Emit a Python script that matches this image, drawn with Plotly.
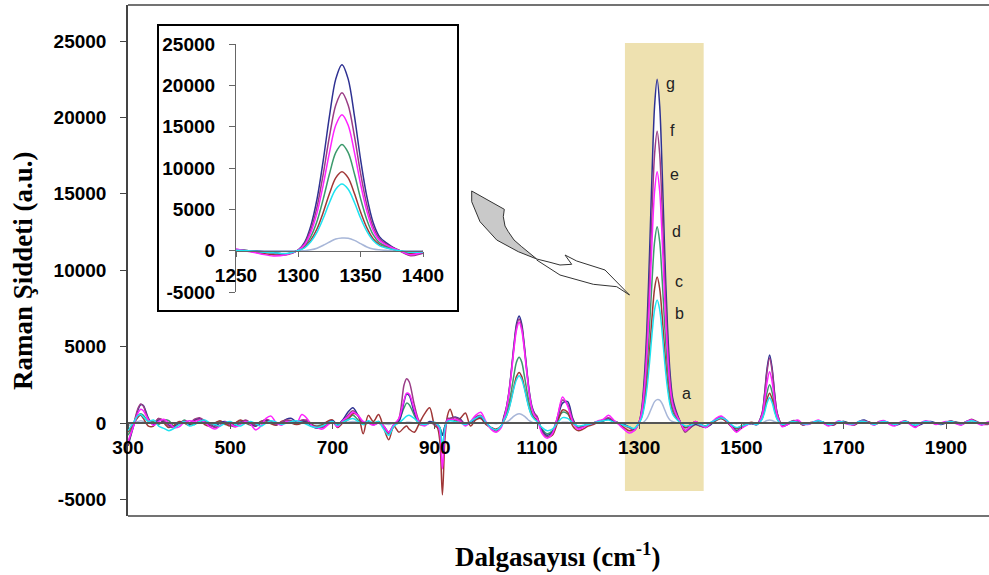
import plotly.graph_objects as go

# ---------------- data (wavenumber grid, cm-1) ----------------
X = [300, 310, 320, 325, 330, 340,
     350, 360, 370, 380, 390, 400, 410, 420, 430, 440, 450, 460, 470, 480, 490, 500,
     510, 520, 530, 540, 550, 560, 570, 580, 590, 600, 610, 620, 630, 640, 650, 660,
     670, 680, 690, 700,
     710, 720, 730, 740, 750, 760, 770, 780, 790, 800, 810, 820, 830,
     840, 845, 850, 860, 870, 880, 890, 900, 905, 910, 915, 920, 925, 930, 940, 950,
     960, 970, 980, 990, 1000, 1010, 1020, 1030,
     1035, 1040, 1045, 1050, 1055, 1060, 1065, 1070, 1075, 1080, 1085, 1090, 1095, 1100,
     1110, 1120, 1130, 1140, 1150, 1160, 1170, 1180, 1190, 1200, 1210, 1220, 1230, 1240,
     1250, 1260, 1270, 1280, 1290,
     1300, 1305, 1310, 1315, 1320, 1325, 1330, 1335, 1340, 1345, 1350, 1355, 1360, 1365,
     1370, 1375, 1380,
     1390, 1400, 1410, 1420, 1430, 1440, 1450, 1460, 1470, 1480, 1490, 1500, 1510, 1520,
     1530, 1540,
     1545, 1550, 1555, 1560, 1565, 1570,
     1580, 1590, 1600, 1610, 1620, 1630, 1640, 1650, 1660, 1670, 1680, 1690, 1700, 1710,
     1720, 1730, 1740, 1750, 1760, 1770, 1780, 1790, 1800, 1810, 1820, 1830, 1840, 1850,
     1860, 1870, 1880, 1890, 1900, 1910, 1920, 1930, 1940, 1950, 1960, 1970, 1980, 1990]

SER_G = [-1500, -300, 900, 1200, 1150, 300,
         -100, 200, 100, -150, -250, 0, 100, -100, 200, 300, 100, -150, -200, 0, 100, -100, -200, 50, 150, -50, -200, 0, 200, 100, -100, 0, 250, 300, 50, 150, 100, -200, -350, -250, 0, 150,
         -100, 200, 700, 1000, 500, 0, 100, -100, 0, -200, -600, -100, 100,
         1400, 1900, 1800, 700, 0, -100, 100, 0, -100, -300, -800, -200, 200, 300, 400, 250, -100, 0, 300, 400, 0, -300, -500, -200,
         400, 1000, 2000, 3500, 5150, 6500, 7000, 6500, 5150, 3500, 2050, 1100, 650, 400,
         -500, -800, -600, 300, 1300, 1400, 300, -300, -200, -100, 0, 100, 150, 300, 100, 0, -100, -250, -400,
         100, 1000, 3000, 6250, 10950, 16300, 20750, 22500, 20750, 16300, 10950, 6500, 3400, 1700, 1000, 500, 100,
         -500, -300, -100, -200, -300, -100, 200, 400, 200, -200, -500, -300, -100, -50, -100, 600,
         1870, 3560, 4450, 3560, 1870, 620,
         -200, -100, 100, 150, -100, -50, 0, 150, 50, -150, -100, 50, 100, -50, -100, 100, 200, 0, -100, 50, 100, 0, -150, -50, 100, 0, -200, -100, 50, 100, 0, -100, 0, 100, 50, -50, 100, 200, 50, -100, 0, 100]

SER_F = [-1400, -200, 1000, 1250, 1100, 250,
         0, 300, 150, -200, -300, -100, 150, 0, 250, 350, 150, -100, -300, -150, 50, -150, -250, 0, 200, 0, -150, 50, 250, 100, -100, 50, 200, 150, 0, 200, 150, -150, -300, -300, -100, 100,
         -200, 100, 500, 800, 450, 0, 50, -100, 50, -300, -700, -200, 300,
         2500, 2900, 2700, 1200, 100, -100, 0, -100, -200, -500, -2000, -400, 300, 300, 350, 200, -100, 50, 400, 500, 0, -300, -500, -200,
         300, 950, 1950, 3400, 5000, 6300, 6800, 6300, 5000, 3400, 1950, 1000, 600, 450,
         -600, -900, -700, 400, 1500, 1200, 200, -300, -200, -100, -50, 100, 200, 350, 150, 0, -150, -300, -500,
         80, 850, 2550, 5300, 9300, 13850, 17600, 19100, 17600, 13850, 9300, 5500, 2900, 1450, 850, 420, 80,
         -600, -300, 0, -200, -250, -50, 250, 400, 150, -250, -550, -300, -100, 0, -100, 550,
         1780, 3400, 4250, 3400, 1780, 600,
         -150, -50, 150, 100, -150, 0, 50, 100, 0, -100, -150, 100, 50, 0, -150, 50, 150, 50, -50, 100, 50, -50, -100, 0, 150, -50, -250, -50, 100, 50, -50, -50, 50, 150, 0, -100, 50, 250, 100, -50, -100, 50]

SER_E = [-1200, -300, 700, 900, 800, 200,
         -150, 100, 250, 0, -300, -250, 50, 150, 100, 200, 50, -250, -400, -200, 50, -50, -250, -100, 100, -100, -450, -200, 300, 450, 0, -150, 100, 50, 0, 550, 300, -200, -300, -400, -150, 50,
         -250, 150, 400, 700, 500, 100, 0, -150, 0, -200, -600, -100, 300,
         1500, 1950, 1900, 900, 0, -200, 0, 0, -100, -600, -3000, -500, 200, 200, 250, 100, -200, 100, 500, 700, 100, -400, -600, -300,
         200, 900, 1900, 3300, 4850, 6100, 6600, 6100, 4850, 3300, 1900, 950, 500, 300,
         -700, -1000, -700, 400, 1700, 1100, 100, -400, -300, -100, 0, 150, 250, 500, 200, -100, -400, -650, -500,
         70, 720, 2200, 4570, 8000, 11900, 15170, 16450, 15170, 11900, 8000, 4750, 2480, 1250, 720, 360, 70,
         -500, -200, 100, -100, -300, 0, 300, 450, 200, -200, -600, -350, -150, 0, -100, 450,
         1400, 2680, 3350, 2680, 1400, 470,
         -250, -100, 50, 200, -50, -100, 50, 200, 0, -200, -50, 150, 0, -100, -100, 100, 100, 0, -150, 100, 150, -100, -200, 50, 100, -100, -300, 0, 150, 50, -100, 0, 100, 50, -50, -150, 100, 200, 0, -150, 50, 150]

SER_D = [-800, -200, 500, 600, 500, 100,
         100, -100, 200, 150, -200, -100, 200, 0, -100, 150, 0, -150, 0, 100, -100, -50, 0, 150, 0, -150, -100, 100, 150, 0, -100, 0, 150, 50, -50, 100, 0, -150, -200, -100, 50, 100,
         -100, 100, 300, 500, 200, -100, 0, -50, 100, -200, -700, -200, 200,
         1000, 1300, 1200, 500, -100, -100, 0, 0, -100, -300, -800, -200, 100, 200, 200, 100, -100, 0, 300, 300, 0, -300, -500, -200,
         200, 600, 1250, 2150, 3150, 4000, 4300, 4000, 3150, 2150, 1250, 650, 350, 200,
         -400, -700, -500, 200, 700, 600, 0, -300, -200, -100, 0, 100, 150, 250, 100, 0, -150, -250, -400,
         50, 570, 1700, 3570, 6260, 9300, 11850, 12850, 11850, 9300, 6260, 3710, 1940, 980, 570, 280, 50,
         -300, -200, 0, -100, -200, 0, 200, 300, 150, -150, -400, -200, -100, 0, -50, 350,
         1050, 2000, 2500, 2000, 1050, 350,
         -100, 0, 100, 100, -50, -50, 0, 100, 50, -100, -50, 50, 100, 0, -50, 50, 150, 50, -50, 0, 50, 0, -100, 0, 50, 0, -150, -50, 50, 50, 0, -50, 0, 50, 50, 0, 50, 150, 50, -50, 0, 50]

SER_C = [-600, -100, 400, 500, 300, -200,
         -200, 300, 0, -300, -150, 100, 0, -150, 150, 200, -100, -200, 0, 150, -50, -200, 0, 200, 50, -100, -200, 100, 150, -50, -150, 100, 200, 0, -100, 0, 200, -100, -250, -150, 100, 200,
         -300, 0, 200, 600, 500, -700, 500, 100, 550, -300, -1100, -200, -600,
         -300, -200, -400, -600, 0, 600, 1000, -200, -300, -1200, -4700, -1000, 500, 900, 100, 300, 650, -200, 200, 300, -100, -300, -400, -200,
         100, 450, 950, 1650, 2400, 3050, 3300, 3050, 2400, 1650, 950, 500, 300, 200,
         -500, -900, -800, 0, 850, 700, -200, -500, -400, -200, -100, 50, 150, 300, 100, -50, -300, -500, -450,
         40, 420, 1270, 2650, 4650, 6910, 8800, 9550, 8800, 6910, 4650, 2760, 1440, 730, 420, 210, 40,
         -300, -100, 100, -100, -200, 0, 150, 300, 100, -200, -350, -200, -50, 50, -50, 270,
         820, 1560, 1950, 1560, 820, 270,
         -150, -50, 50, 50, -100, 0, 50, 100, 0, -100, -100, 50, 50, -50, -100, 50, 100, 50, -100, 50, 100, -50, -100, 0, 100, 0, -200, -50, 50, 50, -50, -50, 50, 100, 0, -100, 50, 200, 50, -50, -50, 50]

SER_B = [-500, 0, 500, 550, 400, 100,
         200, -200, -350, -500, -350, -100, 100, -200, -100, 100, 200, 0, -100, -200, 0, 100, -100, -200, 0, 100, -50, -200, 0, 150, 50, -100, 0, 100, 150, 50, -100, -250, -300, -200, 0, 100,
         -150, 50, 200, 300, 100, -100, 150, 0, 100, -400, -800, -200, 0,
         300, 450, 500, 300, 0, -100, 0, 50, -100, -300, -1500, -300, 100, 150, 100, 0, -100, 100, 300, 450, 50, -300, -450, -200,
         150, 450, 900, 1550, 2300, 2850, 3100, 2850, 2300, 1550, 900, 450, 250, 100,
         -300, -500, -400, 0, 350, 300, 0, -200, -150, -100, 0, 100, 150, 200, 50, 0, -150, -250, -350,
         30, 350, 1070, 2240, 3920, 5830, 7420, 8050, 7420, 5830, 3920, 2330, 1220, 610, 350, 180, 30,
         -200, -150, 0, -100, -200, 50, 200, 350, 200, -100, -300, -200, -100, 0, -100, 230,
         690, 1320, 1650, 1320, 690, 230,
         -100, 0, 100, 50, -50, -50, 50, 150, 50, -100, -50, 100, 50, -50, -50, 100, 100, 0, -100, 50, 100, 0, -100, 0, 100, 0, -150, 0, 100, 50, 0, -50, 50, 100, 0, -50, 50, 150, 50, -50, 0, 100]

SER_A = [-200, 0, 100, 150, 100, 0,
         0, 50, 0, -50, 0, 50, 0, -50, 0, 50, 0, -50, 0, 50, 0, -50, 0, 0, 50, 0, -50, 0, 50, 0, -50, 0, 50, 0, 0, 50, 0, -50, -50, 0, 50, 0,
         0, 0, 50, 100, 50, 0, 0, 0, 0, -50, -100, 0, 0,
         0, 50, 50, 0, 0, 0, 0, 0, 0, 0, 0, 0, 0, 0, 0, 0, 0, 0, 0, 0, 0, 0, -50, 0,
         0, 50, 150, 300, 450, 560, 600, 560, 450, 300, 150, 50, 0, 0,
         0, 0, 0, 0, 50, 50, 0, 0, 0, 0, 0, 0, 0, 0, 0, 0, 0, 0, 0,
         0, 0, 100, 300, 650, 1050, 1400, 1530, 1500, 1250, 850, 450, 200, 100, 50, 0, 0,
         0, 0, 0, 0, 0, 0, 0, 50, 0, 0, -50, 0, 0, 0, 0, 0,
         80, 160, 200, 160, 80, 30,
         0, 0, 20, 0, -20, 0, 0, 20, 0, -20, 0, 0, 20, 0, -20, 0, 0, 20, 0, -20, 0, 0, 20, 0, -20, 0, 0, 20, 0, -20, 0, 0, 20, 0, -20, 0, 0, 20, 0, -20, 0, 0]

LABELS = ['a', 'b', 'c', 'd', 'e', 'f', 'g']
SERIES = {'a': SER_A, 'b': SER_B, 'c': SER_C, 'd': SER_D, 'e': SER_E, 'f': SER_F, 'g': SER_G}
MAIN_XTICKS = [300, 500, 700, 900, 1100, 1300, 1500, 1700, 1900]
YTICKS = [-5000, 0, 5000, 10000, 15000, 20000, 25000]
INSET_XTICKS = [1250, 1300, 1350, 1400]
HIGHLIGHT = [1272, 1426]

for k, s in SERIES.items():
    assert len(s) == len(X), (k, len(s), len(X))

# ---------------- styling ----------------
COLORS = {'a': '#A7B6D8', 'b': '#1EE3F0', 'c': '#A03636', 'd': '#3C9A6C',
          'e': '#FF22FF', 'f': '#9A3C86', 'g': '#2E3192'}
DRAW_ORDER = ['a', 'd', 'c', 'g', 'f', 'e', 'b']

W, H = 989, 575
ML, MR, MT, MB = 128, 0, 5, 59
PW, PH = W - ML - MR, H - MT - MB


def fx(px):
    return (px - ML) / PW


def fy(py):
    return (H - MB - py) / PH


TICKFONT = dict(family='Liberation Sans, Arial, sans-serif', size=19, color='black', weight='bold')
TITLEFONT = dict(family='Liberation Serif, Times New Roman, serif', size=27, color='black', weight='bold')

fig = go.Figure()

# white area under the main peak inside the highlighted band
seg = [(x, max(y, 0)) for x, y in zip(X, SER_G) if 1295 <= x <= 1385]
fig.add_trace(go.Scatter(x=[p[0] for p in seg], y=[p[1] for p in seg], mode='lines',
                         line=dict(width=0, shape='spline'), fill='tozeroy', fillcolor='white',
                         hoverinfo='skip', showlegend=False))

for k in DRAW_ORDER:
    fig.add_trace(go.Scatter(x=X, y=SERIES[k], mode='lines', name=k,
                             line=dict(color=COLORS[k], width=1.5, shape='spline', smoothing=0.9),
                             showlegend=False))

for k in DRAW_ORDER:
    fig.add_trace(go.Scatter(x=X, y=SERIES[k], mode='lines', name=k, xaxis='x2', yaxis='y2',
                             line=dict(color=COLORS[k], width=1.5, shape='spline', smoothing=0.9),
                             showlegend=False))

ymin = -(H - MB - 423) / (76.4 / 5000)
ymax = 25000 + (41 - MT) / (76.4 / 5000)

fig.update_layout(
    template='none',
    width=W, height=H, margin=dict(l=ML, r=MR, t=MT, b=MB, autoexpand=False),
    paper_bgcolor='white', plot_bgcolor='rgba(0,0,0,0)',
    xaxis=dict(range=[300, 300 + PW / 0.51125], anchor='free', position=fy(423), automargin=False,
               tickvals=MAIN_XTICKS, ticktext=[str(v) for v in MAIN_XTICKS],
               showgrid=False, zeroline=False, showline=True, linecolor='#555555', linewidth=1.5,
               ticks='outside', ticklen=5, tickcolor='#555555', tickfont=TICKFONT,
               ticklabelstandoff=2),
    yaxis=dict(range=[ymin, ymax], anchor='x', tickvals=YTICKS, ticktext=[str(v) for v in YTICKS],
               automargin=False,
               showgrid=False, zeroline=False, showline=True, linecolor='#444444', linewidth=1.5,
               ticks='outside', ticklen=6, tickcolor='#444444', tickfont=TICKFONT,
               ticklabelstandoff=10),
    xaxis2=dict(domain=[fx(236), fx(423)], range=[1250, 1400], anchor='free', position=fy(251),
                automargin=False,
                tickvals=INSET_XTICKS, ticktext=[str(v) for v in INSET_XTICKS],
                showgrid=False, zeroline=False, showline=True,
                linecolor='#666666', linewidth=1.2, ticks='outside', ticklen=5, tickcolor='#666666',
                tickfont=TICKFONT, ticklabelstandoff=2),
    yaxis2=dict(domain=[fy(292), fy(44)], range=[-5000, 25000], anchor='x2', automargin=False,
                tickvals=YTICKS, ticktext=[str(v) for v in YTICKS],
                showgrid=False, zeroline=False, showline=True,
                linecolor='#666666', linewidth=1.2, ticks='outside', ticklen=6, tickcolor='#666666',
                tickfont=TICKFONT, ticklabelstandoff=10),
)

shapes = []
# highlighted band (tan)
shapes.append(dict(type='rect', xref='x', yref='y', x0=HIGHLIGHT[0], x1=HIGHLIGHT[1],
                   y0=(423 - 491) / (76.4 / 5000), y1=(423 - 43) / (76.4 / 5000),
                   fillcolor='#EEE1B0', line=dict(width=0), layer='below'))
# frame lines (top, bottom)
shapes.append(dict(type='line', xref='paper', yref='paper', x0=0, x1=1, y0=1, y1=1,
                   line=dict(color='#444444', width=1.5)))
shapes.append(dict(type='line', xref='paper', yref='paper', x0=0, x1=1, y0=0, y1=0,
                   line=dict(color='#444444', width=1.5)))
# inset box
shapes.append(dict(type='rect', xref='paper', yref='paper', x0=fx(158), x1=fx(458), y0=fy(311), y1=fy(25),
                   fillcolor='white', line=dict(color='black', width=2), layer='below'))


def path(points, close=False):
    s = 'M ' + ' L '.join(f'{fx(a):.5f},{fy(b):.5f}' for a, b in points)
    return s + (' Z' if close else '')


lobe = [(471.7, 191), (504.3, 209.3), (503.3, 216.7), (505, 226), (508.3, 231.7), (514, 240),
        (521.7, 246.7), (536.7, 259), (518.3, 251.7), (496.7, 240), (480, 221.7), (471.7, 201.7)]
ribbon = [(536.7, 259), (550, 262.3), (560, 265), (571.7, 264.3), (565, 255), (576.7, 261),
          (605, 270), (629.5, 295), (616.7, 286.7), (593.3, 284.3), (560, 275), (536.7, 260)]
shapes.append(dict(type='path', xref='paper', yref='paper', path=path(lobe, True),
                   fillcolor='#C9C9C9', line=dict(color='#333333', width=1)))
shapes.append(dict(type='path', xref='paper', yref='paper', path=path(ribbon, False),
                   line=dict(color='#333333', width=1)))
fig.update_layout(shapes=shapes)

annotations = []
# series labels next to the main peak
LABEL_SHIFT = {'g': (11, -4), 'f': (13, 1), 'e': (15, -3), 'd': (17, -5),
               'c': (20, -4), 'b': (20, -13), 'a': (27, 6)}
for k in LABELS:
    pts = [(x, y) for x, y in zip(X, SERIES[k]) if 1300 <= x <= 1380]
    px_, py_ = max(pts, key=lambda p: p[1])
    dx, dy = LABEL_SHIFT[k]
    annotations.append(dict(x=px_, y=py_, xref='x', yref='y', text=k, showarrow=False,
                            xanchor='center', yanchor='middle', xshift=dx + 2, yshift=dy,
                            font=dict(family='Liberation Sans, Arial, sans-serif', size=16, color='#222222')))

annotations.append(dict(x=fx(557), y=fy(555), xref='paper', yref='paper', xanchor='center', yanchor='middle',
                        text='Dalgasayısı (cm<sup>-1</sup>)', showarrow=False, font=TITLEFONT))
annotations.append(dict(x=fx(23), y=fy(271), xref='paper', yref='paper', textangle=-90,
                        xanchor='center', yanchor='middle',
                        text='Raman Şiddeti (a.u.)', showarrow=False, font=TITLEFONT))
fig.update_layout(annotations=annotations)

fig.write_html('out.html', config={'displayModeBar': False},
               post_script="document.body.style.margin='0px';document.body.style.overflow='hidden';")
